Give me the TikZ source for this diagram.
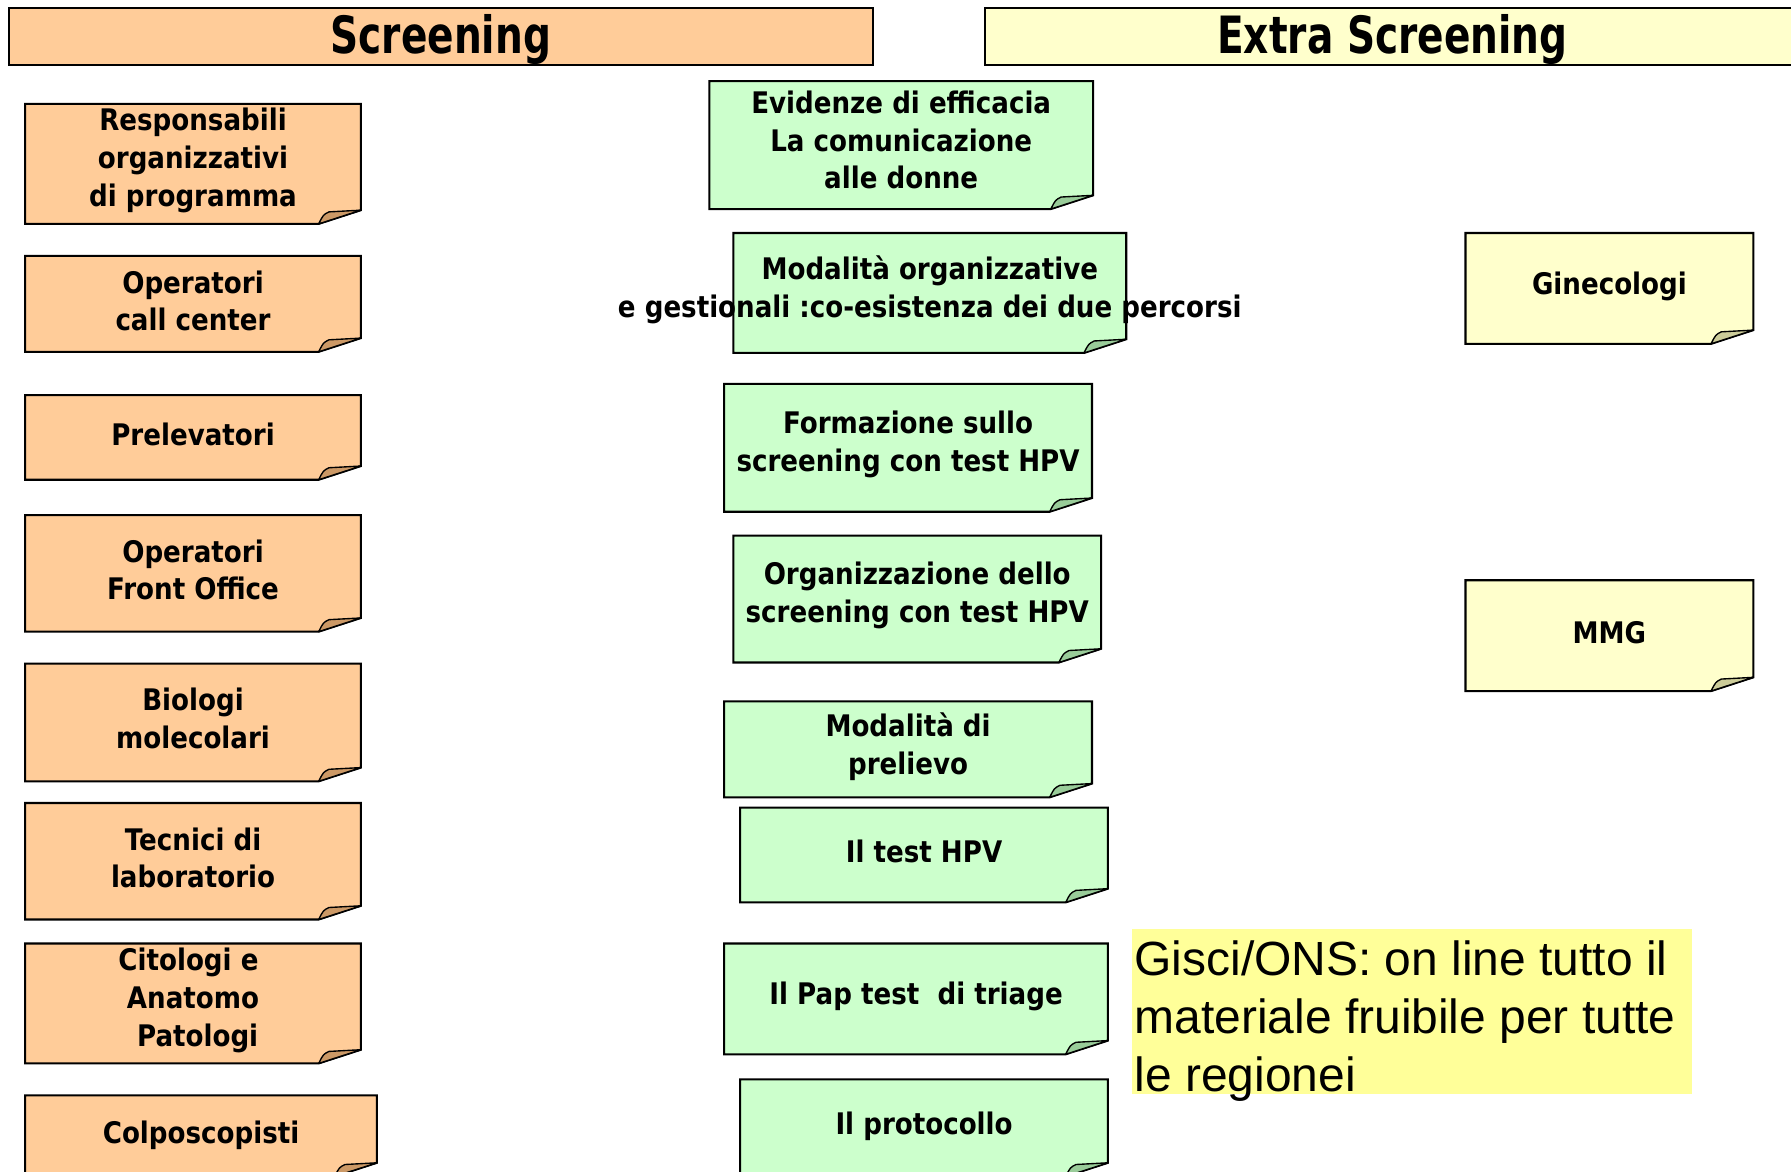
\documentclass[tikz,border=0pt]{standalone}
\usepackage{fontspec}
\usepackage{graphicx}
\setmainfont{Liberation Sans}
\newfontfamily\boxfont[FakeStretch=0.88]{DejaVu Sans}
\newfontfamily\hdrfont[FakeStretch=0.76]{DejaVu Sans}
\definecolor{peach}{HTML}{FFCC99}
\definecolor{peachfold}{HTML}{CC9966}
\definecolor{mint}{HTML}{CCFFCC}
\definecolor{mintfold}{HTML}{99CC99}
\definecolor{cream}{HTML}{FFFFCC}
\definecolor{creamfold}{HTML}{CCCC99}
\definecolor{hilite}{HTML}{FFFF99}
\tikzset{
  placeholder/.style={draw=none, inner sep=0pt, outer sep=0pt},
  notetext/.style={font=\boxfont\bfseries\fontsize{26}{33}\selectfont, align=center, inner sep=0pt},
  outline/.style={draw=black, line width=1.8pt, line join=miter},
  foldline/.style={draw=black, line width=1.2pt, line join=round},
  header/.style={draw=black, line width=1.8pt},
  hdrtext/.style={font=\hdrfont\bfseries\fontsize{45}{50}\selectfont, inner sep=0pt},
  gisci/.style={font=\fontsize{42}{51}\selectfont, align=left, inner sep=0pt},
}
\newcommand\notebox[9]{%
  \pgfmathsetmacro\nw{#4-#2}\pgfmathsetmacro\nh{#5-#3}%
  \node[placeholder, minimum width=\nw pt, minimum height=\nh pt] (#1) at ({(#2+#4)/2},{(#3+#5)/2}) {};
  \path[outline, fill=#6] (#1.north west) -- (#1.north east) -- ([yshift=12pt]#1.south east) -- ([xshift=-37pt]#1.south east) -- (#1.south west) -- cycle;
  \path[foldline, fill=#7] ([xshift=-37pt]#1.south east) .. controls ([xshift=-33pt,yshift=8pt]#1.south east) .. ([xshift=-28pt,yshift=10.5pt]#1.south east) -- ([yshift=12pt]#1.south east) -- cycle;
  \node[notetext] (#1-t) at ([yshift=#9pt]#1.center) {#8};
}
\begin{document}
\begin{tikzpicture}[x=1pt,y=-1pt]
\useasboundingbox (0,0) rectangle (1568,1026);
% headers
\node[placeholder, header, fill=peach, minimum width=756pt, minimum height=50pt] (hs) at (386,32) {};
\node[hdrtext] (hst) at (386,35) {Screening};
\node[placeholder, header, fill=cream, minimum width=714pt, minimum height=50pt] (he) at (1219,32) {};
\node[hdrtext] (het) at (1219,35) {Extra Screening};
% left column
\notebox{l1}{22}{91}{316}{196}{peach}{peachfold}{Responsabili\\organizzativi\\di programma}{3}
\notebox{l2}{22}{224}{316}{308}{peach}{peachfold}{Operatori\\call center}{2.5}
\notebox{l3}{22}{346}{316}{420}{peach}{peachfold}{Prelevatori}{2.5}
\notebox{l4}{22}{451}{316}{553}{peach}{peachfold}{Operatori\\Front Office}{3}
\notebox{l5}{22}{581}{316}{684}{peach}{peachfold}{Biologi\\molecolari}{3.5}
\notebox{l6}{22}{703}{316}{805}{peach}{peachfold}{Tecnici di\\laboratorio}{3}
\notebox{l7}{22}{826}{316}{931}{peach}{peachfold}{Citologi e\hspace*{8pt}\\Anatomo\\\hspace*{8pt}Patologi}{2.5}
\notebox{l8}{22}{959}{330}{1030}{peach}{peachfold}{Colposcopisti}{1}
% centre column
\notebox{c1}{621}{71}{957}{183}{mint}{mintfold}{Evidenze di efficacia\\La comunicazione\\alle donne}{4.5}
\notebox{c2}{642}{204}{986}{309}{mint}{mintfold}{Modalità organizzative\\e gestionali :co-esistenza dei due percorsi}{3}
\notebox{c3}{634}{336}{956}{448}{mint}{mintfold}{Formazione sullo\\screening con test HPV}{3}
\notebox{c4}{642}{469}{964}{580}{mint}{mintfold}{Organizzazione dello\\screening con test HPV}{3.5}
\notebox{c5}{634}{614}{956}{698}{mint}{mintfold}{Modalità di\\prelievo}{2}
\notebox{c6}{648}{707}{970}{790}{mint}{mintfold}{Il test HPV}{3}
\notebox{c7}{634}{826}{970}{923}{mint}{mintfold}{Il Pap test~ di triage}{2}
\notebox{c8}{648}{945}{970}{1030}{mint}{mintfold}{Il protocollo}{1.5}
% right column
\notebox{r1}{1283}{204}{1535}{301}{cream}{creamfold}{Ginecologi}{2}
\notebox{r2}{1283}{508}{1535}{605}{cream}{creamfold}{MMG}{2.5}
% Gisci note
\node[placeholder, fill=hilite, minimum width=490pt, minimum height=145pt] (g) at (1236,885.5) {};
\node[gisci, anchor=north west] (gt) at (993,823) {Gisci/ONS: on line tutto il\\materiale fruibile per tutte\\le regionei};
\end{tikzpicture}
\end{document}
